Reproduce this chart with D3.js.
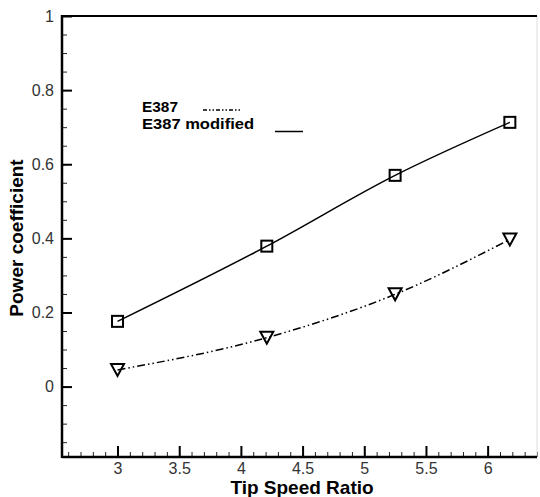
<!DOCTYPE html>
<html>
<head>
<meta charset="utf-8">
<script src="https://cdn.jsdelivr.net/npm/d3@7"></script>
<style>
  body { margin: 0; background: #ffffff; }
  text { font-family: "Liberation Sans", Arial, sans-serif; }
</style>
</head>
<body>
<script>
const width = 540;
const height = 497;

// data
const tsr = [3, 4.21, 5.25, 6.18];
const cpE387 = [0.045, 0.132, 0.249, 0.397];
const cpModified = [0.176, 0.379, 0.570, 0.713];
const xTicks = [3, 3.5, 4, 4.5, 5, 5.5, 6];
const yTicks = [0, 0.2, 0.4, 0.6, 0.8, 1];

const plotLeft = 62, plotRight = 537, plotTop = 16, plotBottom = 457;

const svg = d3.select("body").append("svg")
    .attr("width", width)
    .attr("height", height);

const x = d3.scaleLinear().domain([2.55, 6.4]).range([plotLeft, plotRight]);
const y = d3.scaleLinear().domain([-0.19, 1]).range([plotBottom, plotTop]);

//minor ticks
const xMinor = d3.range(26, 65).map(d => d / 10).filter(d => d >= 2.55 && d <= 6.4);
const yMinor = d3.range(-3, 21).map(d => d / 20);

svg.append("g")
    .attr("transform", `translate(0,${plotBottom})`)
    .call(d3.axisBottom(x).tickValues(xMinor).tickSize(-5).tickFormat(""))
    .call(g => g.select(".domain").remove())
    .call(g => g.selectAll("line").attr("stroke", "#222").attr("stroke-width", 1));

svg.append("g")
    .attr("transform", `translate(${plotLeft},0)`)
    .call(d3.axisLeft(y).tickValues(yMinor).tickSize(-5).tickFormat(""))
    .call(g => g.select(".domain").remove())
    .call(g => g.selectAll("line").attr("stroke", "#222").attr("stroke-width", 1));

//major ticks
svg.append("g")
    .attr("transform", `translate(0,${plotBottom})`)
    .call(d3.axisBottom(x).tickValues(xTicks).tickSize(-11).tickPadding(6).tickFormat(d3.format("")))
    .call(g => g.select(".domain").remove())
    .call(g => g.selectAll("line").attr("stroke", "#000").attr("stroke-width", 2))
    .call(g => g.selectAll("text").attr("fill", "#333").style("font-size", "16px"));

svg.append("g")
    .attr("transform", `translate(${plotLeft},0)`)
    .call(d3.axisLeft(y).tickValues(yTicks).tickSize(-10).tickPadding(8).tickFormat(d3.format("")))
    .call(g => g.select(".domain").remove())
    .call(g => g.selectAll("line").attr("stroke", "#000").attr("stroke-width", 2))
    .call(g => g.selectAll("text").attr("fill", "#333").style("font-size", "16px"));

//frame
svg.append("line").attr("x1", plotRight).attr("x2", plotRight).attr("y1", plotTop).attr("y2", plotBottom)
    .attr("stroke", "#ddd").attr("stroke-width", 1);
svg.append("line").attr("x1", plotLeft).attr("x2", plotRight).attr("y1", plotTop).attr("y2", plotTop)
    .attr("stroke", "#000").attr("stroke-width", 2);
svg.append("line").attr("x1", plotLeft).attr("x2", plotRight).attr("y1", plotBottom).attr("y2", plotBottom)
    .attr("stroke", "#000").attr("stroke-width", 2.5);
svg.append("line").attr("x1", plotLeft).attr("x2", plotLeft).attr("y1", plotTop - 1).attr("y2", plotBottom + 1)
    .attr("stroke", "#000").attr("stroke-width", 2.5);

//lines
const line = d3.line()
    .x(d => x(d[0]))
    .y(d => y(d[1]))
    .curve(d3.curveMonotoneX);

const dashDotDot = "8,3,1.5,3,1.5,3";

svg.append("path")
    .datum(tsr.map((t, i) => [t, cpModified[i]]))
    .attr("d", line)
    .attr("fill", "none")
    .attr("stroke", "#000")
    .attr("stroke-width", 1.5);

svg.append("path")
    .datum(tsr.map((t, i) => [t, cpE387[i]]))
    .attr("d", line)
    .attr("fill", "none")
    .attr("stroke", "#000")
    .attr("stroke-width", 1.5)
    .attr("stroke-dasharray", dashDotDot);

//markers
svg.selectAll(".sq")
    .data(tsr.map((t, i) => [t, cpModified[i]]))
    .join("rect")
    .attr("class", "sq")
    .attr("x", d => x(d[0]) - 5.5)
    .attr("y", d => y(d[1]) - 5.5)
    .attr("width", 11)
    .attr("height", 11)
    .attr("fill", "none")
    .attr("stroke", "#000")
    .attr("stroke-width", 2);

svg.selectAll(".tri")
    .data(tsr.map((t, i) => [t, cpE387[i]]))
    .join("path")
    .attr("class", "tri")
    .attr("d", d => {
        const cx = x(d[0]), cy = y(d[1]);
        return `M${cx - 6.5},${cy - 6}L${cx + 6.5},${cy - 6}L${cx},${cy + 6}Z`;
    })
    .attr("fill", "none")
    .attr("stroke", "#000")
    .attr("stroke-width", 2)
    .attr("stroke-linejoin", "miter");

//legend
svg.append("text")
    .attr("x", 142)
    .attr("y", 112)
    .attr("textLength", 36)
    .attr("lengthAdjust", "spacingAndGlyphs")
    .text("E387")
    .style("font-size", "15px")
    .style("font-weight", "bold");

svg.append("text")
    .attr("x", 142)
    .attr("y", 128.5)
    .attr("textLength", 112)
    .attr("lengthAdjust", "spacingAndGlyphs")
    .text("E387 modified")
    .style("font-size", "15px")
    .style("font-weight", "bold");

svg.append("line")
    .attr("x1", 203).attr("x2", 240)
    .attr("y1", 110).attr("y2", 110)
    .attr("stroke", "#000")
    .attr("stroke-width", 1.5)
    .attr("stroke-dasharray", "4,2,1.5,2,1.5,2");

svg.append("line")
    .attr("x1", 275).attr("x2", 303)
    .attr("y1", 131.5).attr("y2", 131.5)
    .attr("stroke", "#000")
    .attr("stroke-width", 1.5);

//axis titles
svg.append("text")
    .attr("x", 302)
    .attr("y", 494)
    .attr("text-anchor", "middle")
    .text("Tip Speed Ratio")
    .style("font-size", "19px")
    .style("font-weight", "bold");

svg.append("text")
    .attr("transform", "translate(23,238) rotate(-90)")
    .attr("text-anchor", "middle")
    .text("Power coefficient")
    .style("font-size", "19px")
    .style("font-weight", "bold");
</script>
</body>
</html>
